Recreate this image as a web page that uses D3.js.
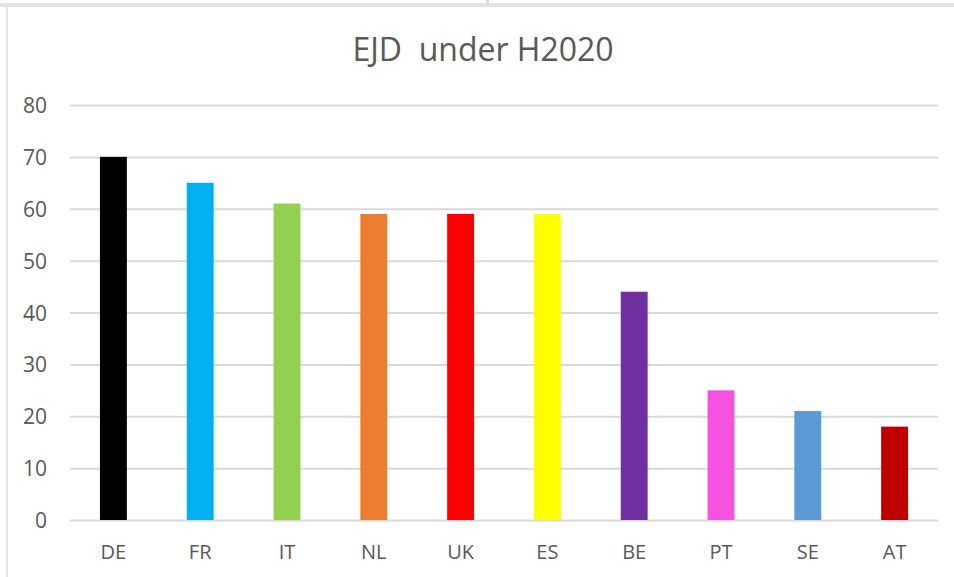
<!DOCTYPE html>
<html><head><meta charset="utf-8">
<script src="https://cdn.jsdelivr.net/npm/d3@7"></script>
<style>body{margin:0;background:#fff}svg{display:block}text{font-family:"Open Sans",sans-serif;fill:#595959}</style>
</head><body><svg id="c" width="954" height="577"></svg>
<script>
const categories = ["DE","FR","IT","NL","UK","ES","BE","PT","SE","AT"];
const values = [70,65,61,59,59,59,44,25,21,18];
const colors = ["#000000","#00b0f0","#92d050","#ed7d31","#ff0000","#ffff00","#7030a0","#f652e0","#5b9bd5","#c00000"];
const yTicks = [0,10,20,30,40,50,60,70,80];
const title = "EJD  under H2020";

const svg = d3.select("#c");
// frame fragments
svg.append("rect").attr("x",0).attr("y",3).attr("width",954).attr("height",4).attr("fill","#e3e3e3");
svg.append("rect").attr("x",486).attr("y",0).attr("width",3).attr("height",4).attr("fill","#d9d9d9");
svg.append("rect").attr("x",6).attr("y",7).attr("width",2).attr("height",570).attr("fill","#e3e3e3");

const x = d3.scaleBand().domain(categories).range([70,938]).paddingInner(0.69).paddingOuter(0.345);
const y = d3.scaleLinear().domain([0,80]).range([520,105]);

const yAxis = d3.axisLeft(y).tickValues(yTicks).tickSize(-868);
const ga = svg.append("g").attr("transform","translate(70,0)").call(yAxis);
ga.select(".domain").remove();
ga.selectAll(".tick line").attr("stroke","#d9d9d9").attr("stroke-width",2).attr("x1",0).attr("x2",868);
ga.selectAll(".tick text").attr("font-size",21).attr("fill","#595959").attr("x",-23).attr("dy","0.36em");

svg.append("g").selectAll("rect").data(categories).join("rect")
  .attr("x",d=>x(d)).attr("width",x.bandwidth())
  .attr("y",(d,i)=>y(values[i])).attr("height",(d,i)=>y(0)-y(values[i]))
  .attr("fill",(d,i)=>colors[i]);

const xAxis = d3.axisBottom(x).tickSize(0);
const gx = svg.append("g").attr("transform","translate(0,521)").call(xAxis);
gx.select(".domain").remove();
gx.selectAll(".tick text").attr("font-size",20).attr("fill","#595959").attr("y",38).attr("dy",0);

svg.append("text").attr("x",483).attr("y",61).attr("text-anchor","middle").attr("font-size",32).text(title).style("white-space","pre");
</script></body></html>
